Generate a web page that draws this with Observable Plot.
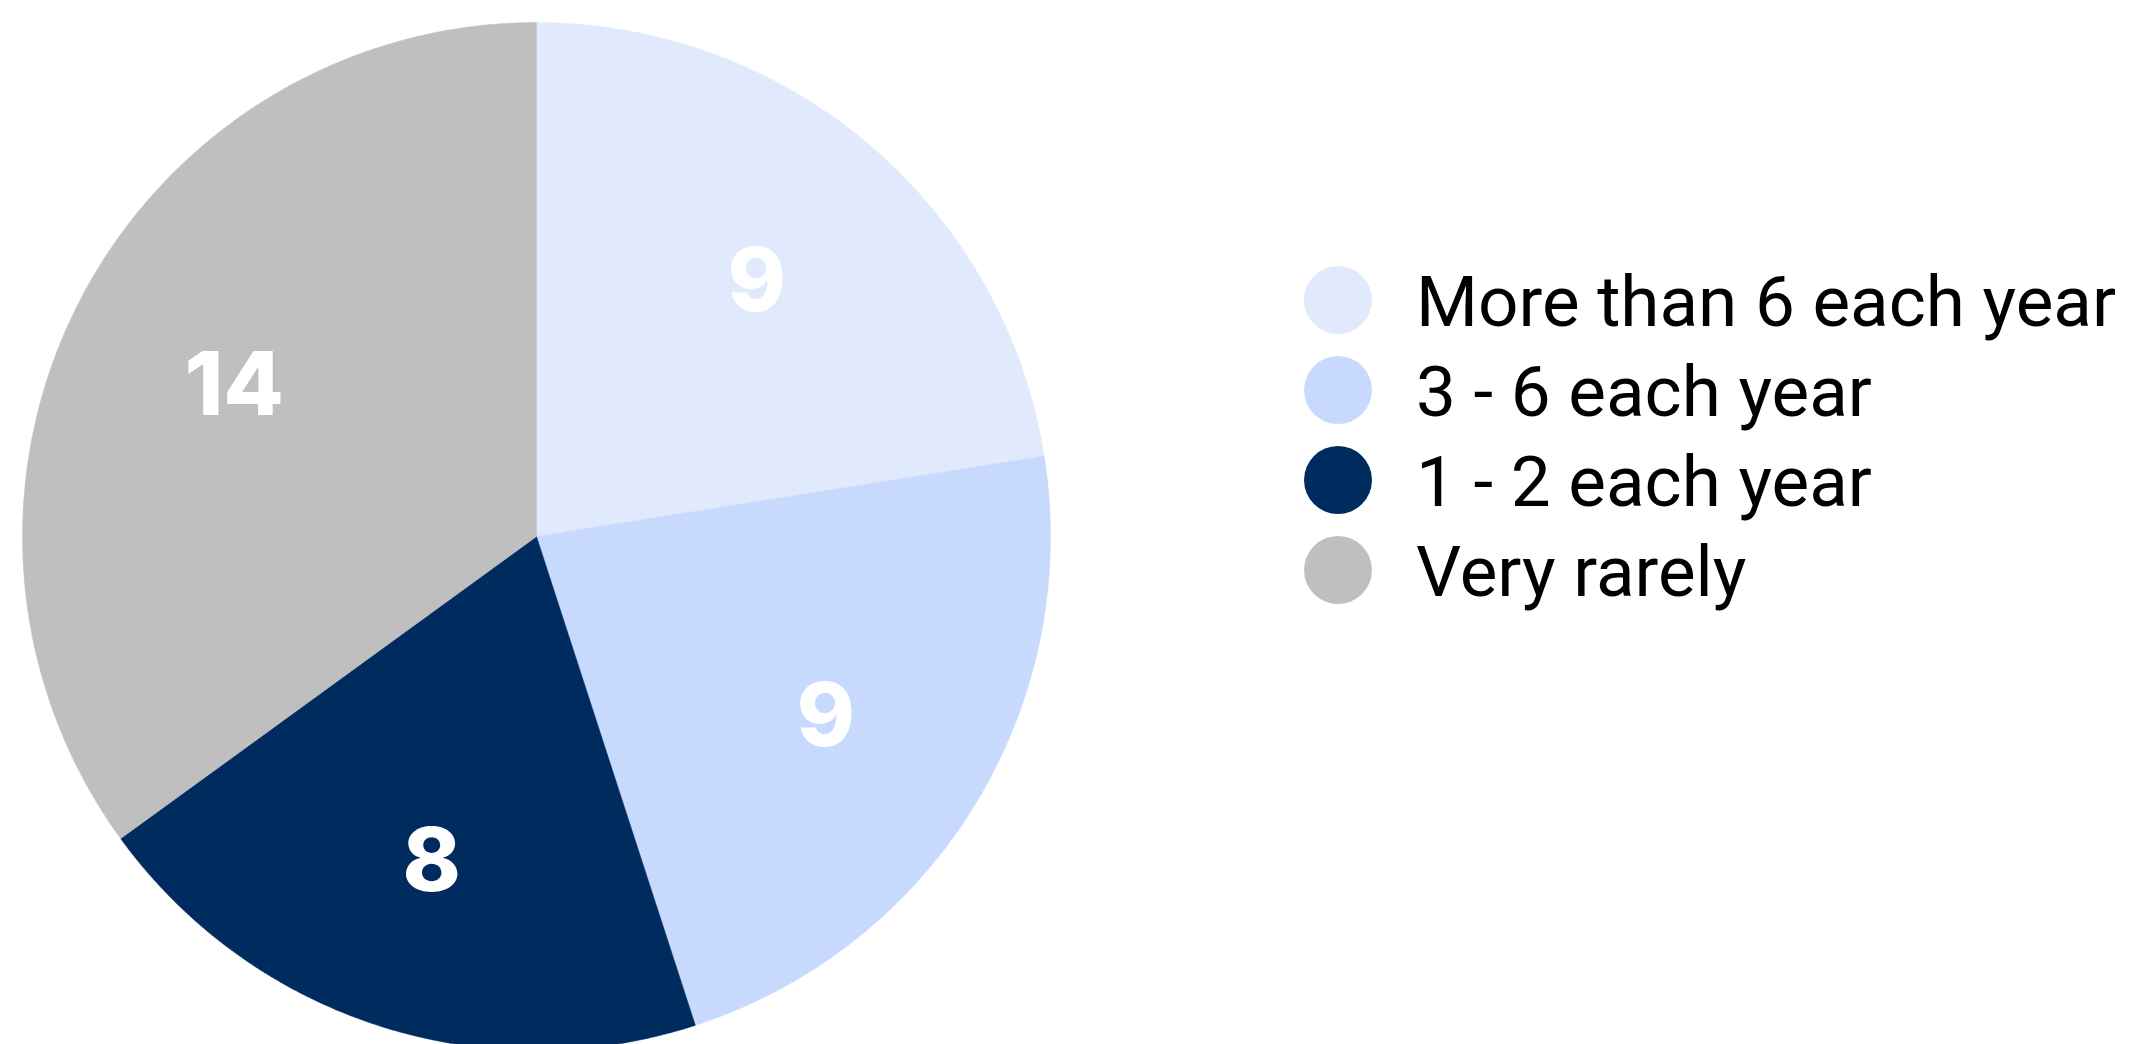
<!DOCTYPE html>
<html>
<head>
<meta charset="utf-8">
<script src="https://cdn.jsdelivr.net/npm/d3@7"></script>
<script src="https://cdn.jsdelivr.net/npm/@observablehq/plot@0.6"></script>
<style>
  html, body { margin: 0; padding: 0; background: #fff; }
  #wrap { position: relative; width: 2132px; height: 1044px; overflow: hidden; }
  #legend { position: absolute; left: 1304px; top: 255px; font-family: Roboto, Inter, sans-serif; }
  .row { display: flex; align-items: center; height: 90px; }
  .sw { width: 68px; height: 68px; border-radius: 50%; margin-right: 44px; flex: none; }
  .lab { font-size: 71px; color: #000; line-height: 1; white-space: nowrap; position: relative; top: 1px; }
</style>
</head>
<body>
<div id="wrap"><div id="legend"></div></div>
<script>
const categories = ["More than 6 each year", "3 - 6 each year", "1 - 2 each year", "Very rarely"];
const values = [9, 9, 8, 14];
const colors = ["#e1eafd", "#c7d9fd", "#002b5f", "#bfbfbf"];

const data = categories.map((c, i) => ({category: c, value: values[i]}));
const arcs = d3.pie().sort(null).value(d => d.value)(data);

// polygon outline of each slice in unit-circle coordinates (y up, clockwise from top)
const pts = [];
arcs.forEach(a => {
  const cat = a.data.category;
  pts.push({category: cat, x: 0, y: 0});
  const n = Math.max(2, Math.ceil((a.endAngle - a.startAngle) / 0.005));
  for (let k = 0; k <= n; k++) {
    const t = a.startAngle + (a.endAngle - a.startAngle) * k / n;
    pts.push({category: cat, x: Math.sin(t), y: Math.cos(t)});
  }
  pts.push({category: cat, x: 0, y: 0});
});

const labels = arcs.map(a => {
  const m = (a.startAngle + a.endAngle) / 2;
  return {x: 0.66 * Math.sin(m), y: 0.66 * Math.cos(m), text: String(a.data.value)};
});

const W = 2132, H = 1044, R = 514, cx = 536, cy = 536;

const chart = Plot.plot({
  width: W,
  height: H,
  margin: 0,
  x: {domain: [-cx / R, (W - cx) / R], axis: null},
  y: {domain: [-(H - cy) / R, cy / R], axis: null},
  color: {domain: categories, range: colors},
  style: {background: "#fff", fontFamily: "Inter, 'Open Sans', sans-serif", overflow: "hidden"},
  marks: [
    Plot.line(pts, {x: "x", y: "y", z: "category", fill: "category", stroke: "category", strokeWidth: 0.5, curve: "linear"}),
    Plot.text(labels, {x: "x", y: "y", text: "text", fill: "#fff", fontSize: 88, fontWeight: 800, dy: 4})
  ]
});
document.getElementById("wrap").prepend(chart);

const legend = d3.select("#legend");
categories.forEach((c, i) => {
  const row = legend.append("div").attr("class", "row");
  row.append("div").attr("class", "sw").style("background", colors[i]);
  row.append("div").attr("class", "lab").text(c);
});
</script>
</body>
</html>
